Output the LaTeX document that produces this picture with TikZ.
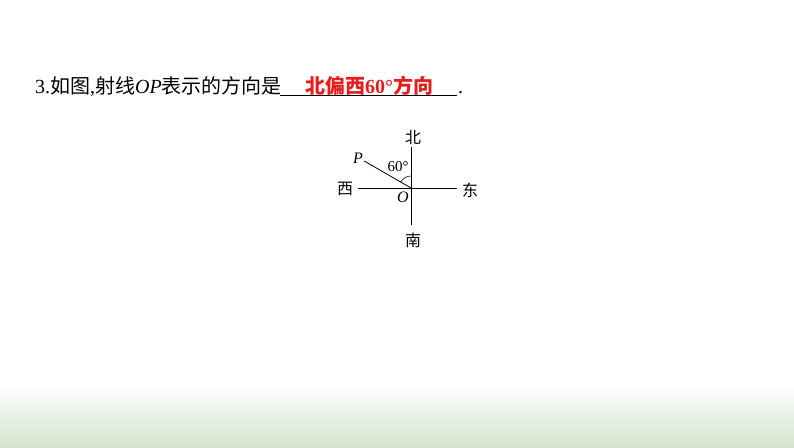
\documentclass[tikz,border=0pt]{standalone}
\usepackage{fontspec}
\usetikzlibrary{calc}
\setmainfont{Liberation Serif}
\newfontfamily\cjk{Noto Sans CJK SC}
\definecolor{ansred}{RGB}{230,30,30}
\definecolor{bandgreen}{RGB}{211,228,205}
\begin{document}
\begin{tikzpicture}[x=1pt,y=1pt,
  axisline/.style={line width=0.8pt,black},
  lbl/.style={inner sep=0pt,font=\fontsize{16}{16}\selectfont\cjk},
  ital/.style={inner sep=0pt,font=\fontsize{16}{16}\selectfont\itshape}]
\useasboundingbox (0,0) rectangle (794,-447);
\fill[white] (0,0) rectangle (794,-447);
\shade[top color=white,bottom color=bandgreen] (0,-385) rectangle (794,-447);
% question line
\node[anchor=base west,inner sep=0pt,font=\fontsize{20}{20}\selectfont] (q) at (35,-93)
  {3.{\cjk 如图}{,}{\cjk 射线}\textit{OP}{\cjk 表示的方向是}};
\coordinate (u1) at (280,-95);
\coordinate (u2) at (457,-95);
\draw[line width=0.7pt] (u1) -- (u2);
\node[anchor=base,inner sep=0pt,text=ansred,font=\fontsize{20}{20}\selectfont\bfseries] (ans) at (369,-93)
  {{\cjk\bfseries 北偏西}60°{\cjk\bfseries 方向}};
\node[anchor=base west,inner sep=0pt,font=\fontsize{20}{20}\selectfont] (dot) at (458,-93) {.};
% diagram
\coordinate (O) at (411,-188);
\coordinate (N) at (411,-147);
\coordinate (S) at (411,-225);
\coordinate (W) at (358,-188);
\coordinate (E) at (457,-188);
\coordinate (Pe) at ($(O)+(150:54)$);
\draw[axisline] (N) -- (S);
\draw[axisline] (W) -- (E);
\draw[axisline] (O) -- (Pe);
\draw[line width=0.6pt] ($(O)+(90:12)$) arc (90:150:12);
\node[lbl] (bei) at (413,-137) {北};
\node[lbl] (nan) at (413,-240) {南};
\node[lbl] (xi) at (345,-189) {西};
\node[lbl] (dong) at (470,-190) {东};
\node[ital] (Olab) at (403,-197) {O};
\node[ital] (Plab) at (358,-158) {P};
\node[inner sep=0pt,font=\fontsize{15}{15}\selectfont] (ang) at (398,-167) {60°};
\end{tikzpicture}
\end{document}
